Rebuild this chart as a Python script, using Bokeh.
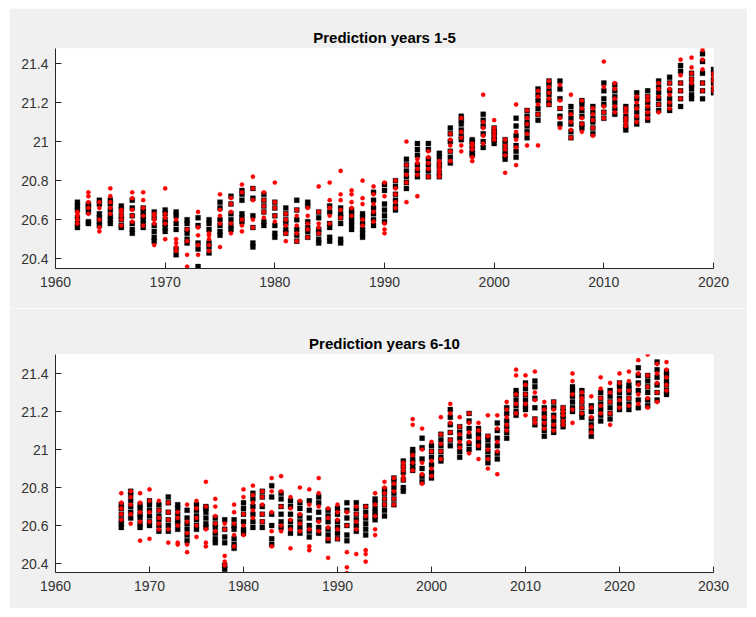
from bokeh.plotting import figure
from bokeh.layouts import column
from bokeh.models import Range1d, FixedTicker, CustomJSTickFormatter, ColumnDataSource, Title
from bokeh.embed import file_html
from bokeh.resources import INLINE

# ---------------- data: prediction years 1-5 ----------------
years_top = list(range(1962, 2021))
black_top = [
    [20.56, 20.58, 20.61, 20.65, 20.67, 20.69],
    [20.58, 20.59, 20.64, 20.66, 20.67, 20.68],
    [20.57, 20.59, 20.61, 20.63, 20.68, 20.70],
    [20.58, 20.60, 20.62, 20.65, 20.68, 20.70],
    [20.56, 20.57, 20.60, 20.62, 20.65, 20.67],
    [20.53, 20.55, 20.58, 20.62, 20.66, 20.70],
    [20.56, 20.58, 20.60, 20.62, 20.64, 20.66],
    [20.49, 20.51, 20.54, 20.57, 20.61, 20.64],
    [20.54, 20.56, 20.58, 20.60, 20.63, 20.65],
    [20.42, 20.45, 20.55, 20.58, 20.62, 20.64],
    [20.48, 20.50, 20.53, 20.55, 20.58, 20.60],
    [20.34, 20.36, 20.45, 20.48, 20.57, 20.61],
    [20.43, 20.46, 20.48, 20.55, 20.58, 20.60],
    [20.52, 20.54, 20.57, 20.60, 20.66, 20.69],
    [20.55, 20.57, 20.60, 20.63, 20.68, 20.72],
    [20.59, 20.61, 20.63, 20.70, 20.73, 20.75],
    [20.46, 20.48, 20.56, 20.62, 20.71, 20.76],
    [20.57, 20.59, 20.64, 20.67, 20.70, 20.73],
    [20.51, 20.53, 20.57, 20.62, 20.66, 20.69],
    [20.53, 20.55, 20.58, 20.60, 20.63, 20.66],
    [20.49, 20.52, 20.55, 20.60, 20.65, 20.70],
    [20.51, 20.54, 20.56, 20.59, 20.67, 20.69],
    [20.48, 20.50, 20.53, 20.55, 20.61, 20.64],
    [20.49, 20.51, 20.56, 20.58, 20.64, 20.67],
    [20.48, 20.50, 20.58, 20.61, 20.63, 20.66],
    [20.55, 20.57, 20.59, 20.61, 20.63, 20.65],
    [20.51, 20.53, 20.55, 20.58, 20.61, 20.63],
    [20.57, 20.60, 20.63, 20.66, 20.70, 20.74],
    [20.59, 20.62, 20.65, 20.68, 20.75, 20.78],
    [20.65, 20.67, 20.70, 20.73, 20.77, 20.80],
    [20.76, 20.79, 20.82, 20.85, 20.88, 20.91],
    [20.82, 20.85, 20.88, 20.93, 20.96, 20.99],
    [20.82, 20.85, 20.88, 20.91, 20.96, 20.99],
    [20.82, 20.84, 20.87, 20.89, 20.92, 20.94],
    [20.89, 20.92, 20.95, 21.00, 21.04, 21.07],
    [21.01, 21.03, 21.06, 21.09, 21.11, 21.13],
    [20.93, 20.94, 20.96, 20.98, 21.00, 21.01],
    [20.97, 21.00, 21.04, 21.08, 21.11, 21.14],
    [20.99, 21.01, 21.02, 21.04, 21.05, 21.07],
    [20.91, 20.93, 20.95, 20.97, 20.99, 21.01],
    [20.92, 20.95, 20.98, 21.03, 21.08, 21.12],
    [21.02, 21.05, 21.08, 21.10, 21.13, 21.16],
    [21.11, 21.14, 21.17, 21.21, 21.24, 21.27],
    [21.19, 21.21, 21.24, 21.26, 21.29, 21.31],
    [21.09, 21.13, 21.17, 21.22, 21.27, 21.31],
    [21.02, 21.05, 21.09, 21.12, 21.15, 21.18],
    [21.07, 21.09, 21.13, 21.16, 21.19, 21.21],
    [21.04, 21.07, 21.10, 21.12, 21.15, 21.18],
    [21.12, 21.15, 21.19, 21.22, 21.26, 21.30],
    [21.14, 21.17, 21.20, 21.23, 21.26, 21.29],
    [21.06, 21.08, 21.11, 21.13, 21.16, 21.18],
    [21.09, 21.12, 21.15, 21.18, 21.22, 21.25],
    [21.11, 21.14, 21.17, 21.20, 21.23, 21.26],
    [21.16, 21.19, 21.22, 21.25, 21.28, 21.31],
    [21.16, 21.19, 21.22, 21.26, 21.30, 21.33],
    [21.18, 21.22, 21.26, 21.30, 21.36, 21.39],
    [21.22, 21.24, 21.27, 21.29, 21.32, 21.35],
    [21.22, 21.26, 21.30, 21.35, 21.41, 21.45],
    [21.25, 21.27, 21.30, 21.32, 21.35, 21.37],
]
red_top = [
    [20.58, 20.60, 20.62, 20.63, 20.64],
    [20.63, 20.66, 20.69, 20.72, 20.74],
    [20.54, 20.56, 20.60, 20.66, 20.69],
    [20.63, 20.66, 20.69, 20.72, 20.76],
    [20.57, 20.60, 20.62, 20.64, 20.65],
    [20.59, 20.62, 20.65, 20.71, 20.74],
    [20.57, 20.62, 20.66, 20.70, 20.74],
    [20.47, 20.58, 20.60, 20.62, 20.63],
    [20.50, 20.58, 20.61, 20.63, 20.76],
    [20.44, 20.46, 20.48, 20.50, 20.60],
    [20.34, 20.36, 20.42, 20.49, 20.55],
    [20.42, 20.47, 20.52, 20.56, 20.64],
    [20.44, 20.47, 20.50, 20.52, 20.53],
    [20.46, 20.58, 20.62, 20.65, 20.73],
    [20.53, 20.58, 20.64, 20.68, 20.71],
    [20.54, 20.57, 20.60, 20.74, 20.78],
    [20.56, 20.60, 20.70, 20.76, 20.82],
    [20.61, 20.64, 20.67, 20.70, 20.74],
    [20.59, 20.62, 20.66, 20.69, 20.79],
    [20.49, 20.53, 20.57, 20.60, 20.63],
    [20.49, 20.53, 20.57, 20.62, 20.65],
    [20.51, 20.55, 20.58, 20.62, 20.66],
    [20.53, 20.56, 20.58, 20.64, 20.77],
    [20.58, 20.62, 20.66, 20.70, 20.79],
    [20.61, 20.65, 20.70, 20.73, 20.85],
    [20.62, 20.66, 20.69, 20.73, 20.75],
    [20.57, 20.60, 20.68, 20.71, 20.80],
    [20.59, 20.64, 20.68, 20.73, 20.77],
    [20.53, 20.55, 20.58, 20.72, 20.79],
    [20.66, 20.69, 20.73, 20.76, 20.80],
    [20.69, 20.79, 20.83, 20.88, 21.00],
    [20.72, 20.83, 20.86, 20.89, 20.91],
    [20.82, 20.86, 20.89, 20.92, 20.95],
    [20.82, 20.84, 20.86, 20.88, 20.90],
    [20.90, 20.95, 20.98, 21.01, 21.04],
    [20.95, 20.98, 21.02, 21.05, 21.12],
    [20.90, 20.92, 20.96, 20.98, 20.99],
    [20.99, 21.03, 21.07, 21.10, 21.24],
    [21.01, 21.03, 21.05, 21.07, 21.11],
    [20.84, 20.93, 20.96, 20.98, 21.01],
    [20.88, 20.97, 21.01, 21.05, 21.19],
    [20.98, 21.04, 21.09, 21.12, 21.16],
    [20.98, 21.14, 21.19, 21.23, 21.26],
    [21.19, 21.22, 21.25, 21.28, 21.31],
    [21.07, 21.12, 21.17, 21.21, 21.29],
    [21.02, 21.06, 21.10, 21.14, 21.24],
    [21.05, 21.09, 21.12, 21.17, 21.21],
    [21.03, 21.07, 21.11, 21.14, 21.17],
    [21.12, 21.15, 21.18, 21.28, 21.41],
    [21.15, 21.18, 21.22, 21.27, 21.30],
    [21.08, 21.10, 21.12, 21.15, 21.17],
    [21.10, 21.13, 21.17, 21.20, 21.23],
    [21.12, 21.15, 21.18, 21.21, 21.23],
    [21.15, 21.19, 21.23, 21.27, 21.30],
    [21.17, 21.20, 21.24, 21.27, 21.30],
    [21.22, 21.26, 21.30, 21.34, 21.42],
    [21.30, 21.32, 21.35, 21.38, 21.43],
    [21.26, 21.30, 21.37, 21.42, 21.47],
    [21.26, 21.28, 21.31, 21.33, 21.35],
]

# ---------------- data: prediction years 6-10 ----------------
years_bot = list(range(1967, 2026))
black_bot = [
    [20.59, 20.61, 20.63, 20.66, 20.69, 20.71],
    [20.64, 20.67, 20.70, 20.73, 20.76, 20.78],
    [20.59, 20.61, 20.64, 20.66, 20.69, 20.71],
    [20.60, 20.62, 20.65, 20.68, 20.71, 20.73],
    [20.57, 20.60, 20.63, 20.65, 20.68, 20.71],
    [20.57, 20.60, 20.63, 20.67, 20.72, 20.75],
    [20.58, 20.61, 20.63, 20.66, 20.69, 20.71],
    [20.52, 20.55, 20.58, 20.61, 20.64, 20.68],
    [20.58, 20.60, 20.63, 20.65, 20.68, 20.71],
    [20.59, 20.61, 20.64, 20.67, 20.69, 20.70],
    [20.51, 20.53, 20.56, 20.59, 20.61, 20.64],
    [20.37, 20.39, 20.51, 20.54, 20.58, 20.63],
    [20.48, 20.50, 20.53, 20.58, 20.60, 20.63],
    [20.56, 20.58, 20.62, 20.66, 20.69, 20.72],
    [20.59, 20.62, 20.66, 20.70, 20.74, 20.77],
    [20.59, 20.62, 20.66, 20.70, 20.75, 20.78],
    [20.50, 20.53, 20.60, 20.66, 20.75, 20.81],
    [20.59, 20.62, 20.66, 20.70, 20.74, 20.77],
    [20.56, 20.59, 20.62, 20.66, 20.70, 20.73],
    [20.56, 20.59, 20.62, 20.65, 20.69, 20.72],
    [20.54, 20.57, 20.60, 20.64, 20.68, 20.73],
    [20.56, 20.59, 20.63, 20.67, 20.72, 20.75],
    [20.52, 20.55, 20.58, 20.62, 20.65, 20.68],
    [20.53, 20.56, 20.59, 20.62, 20.66, 20.69],
    [20.52, 20.55, 20.60, 20.64, 20.68, 20.72],
    [20.57, 20.60, 20.63, 20.66, 20.69, 20.72],
    [20.55, 20.58, 20.61, 20.64, 20.67, 20.70],
    [20.63, 20.65, 20.67, 20.69, 20.72, 20.74],
    [20.65, 20.68, 20.71, 20.74, 20.77, 20.79],
    [20.71, 20.74, 20.77, 20.80, 20.83, 20.85],
    [20.78, 20.80, 20.84, 20.88, 20.91, 20.94],
    [20.89, 20.91, 20.93, 20.95, 20.98, 21.00],
    [20.83, 20.86, 20.90, 20.95, 21.01, 21.06],
    [20.85, 20.88, 20.92, 20.96, 20.99, 21.02],
    [20.94, 20.96, 20.99, 21.02, 21.05, 21.08],
    [21.02, 21.05, 21.09, 21.13, 21.17, 21.21],
    [20.96, 20.99, 21.02, 21.06, 21.09, 21.12],
    [21.00, 21.03, 21.07, 21.11, 21.15, 21.19],
    [21.01, 21.03, 21.05, 21.07, 21.09, 21.11],
    [20.93, 20.96, 20.99, 21.02, 21.05, 21.07],
    [20.95, 20.98, 21.02, 21.06, 21.10, 21.14],
    [21.06, 21.09, 21.12, 21.15, 21.19, 21.22],
    [21.18, 21.20, 21.23, 21.26, 21.29, 21.31],
    [21.21, 21.23, 21.26, 21.29, 21.32, 21.35],
    [21.13, 21.16, 21.22, 21.27, 21.33, 21.36],
    [21.07, 21.10, 21.13, 21.16, 21.19, 21.22],
    [21.09, 21.12, 21.15, 21.18, 21.22, 21.25],
    [21.12, 21.14, 21.16, 21.18, 21.20, 21.22],
    [21.20, 21.22, 21.25, 21.28, 21.31, 21.33],
    [21.17, 21.19, 21.22, 21.25, 21.28, 21.31],
    [21.07, 21.10, 21.13, 21.16, 21.20, 21.23],
    [21.15, 21.18, 21.21, 21.24, 21.27, 21.30],
    [21.16, 21.19, 21.22, 21.25, 21.28, 21.31],
    [21.21, 21.24, 21.27, 21.30, 21.33, 21.35],
    [21.21, 21.24, 21.27, 21.30, 21.32, 21.34],
    [21.22, 21.26, 21.31, 21.35, 21.39, 21.43],
    [21.23, 21.26, 21.30, 21.33, 21.36, 21.39],
    [21.26, 21.30, 21.34, 21.38, 21.42, 21.46],
    [21.29, 21.31, 21.34, 21.36, 21.39, 21.41],
]
red_bot = [
    [20.63, 20.66, 20.69, 20.72, 20.77],
    [20.61, 20.66, 20.71, 20.75, 20.78],
    [20.52, 20.62, 20.67, 20.72, 20.77],
    [20.53, 20.62, 20.67, 20.73, 20.79],
    [20.58, 20.61, 20.64, 20.68, 20.73],
    [20.51, 20.58, 20.63, 20.67, 20.72],
    [20.50, 20.51, 20.60, 20.64, 20.67],
    [20.46, 20.50, 20.56, 20.62, 20.71],
    [20.54, 20.60, 20.64, 20.69, 20.73],
    [20.49, 20.51, 20.58, 20.70, 20.83],
    [20.57, 20.61, 20.65, 20.70, 20.74],
    [20.39, 20.41, 20.44, 20.58, 20.61],
    [20.49, 20.55, 20.61, 20.67, 20.71],
    [20.55, 20.60, 20.66, 20.75, 20.79],
    [20.64, 20.68, 20.72, 20.76, 20.81],
    [20.62, 20.66, 20.71, 20.75, 20.78],
    [20.49, 20.57, 20.67, 20.78, 20.85],
    [20.57, 20.60, 20.70, 20.78, 20.86],
    [20.48, 20.58, 20.63, 20.69, 20.75],
    [20.57, 20.61, 20.66, 20.73, 20.80],
    [20.47, 20.49, 20.58, 20.71, 20.79],
    [20.57, 20.62, 20.70, 20.77, 20.85],
    [20.43, 20.53, 20.59, 20.64, 20.69],
    [20.53, 20.58, 20.63, 20.67, 20.71],
    [20.35, 20.38, 20.46, 20.60, 20.67],
    [20.45, 20.58, 20.62, 20.66, 20.70],
    [20.41, 20.45, 20.47, 20.65, 20.70],
    [20.55, 20.58, 20.65, 20.71, 20.77],
    [20.71, 20.74, 20.77, 20.80, 20.83],
    [20.71, 20.74, 20.78, 20.82, 20.85],
    [20.84, 20.86, 20.89, 20.91, 20.93],
    [20.89, 20.93, 20.97, 21.13, 21.16],
    [20.82, 20.87, 20.93, 21.00, 21.11],
    [20.86, 20.90, 20.94, 20.99, 21.04],
    [20.95, 20.99, 21.03, 21.08, 21.17],
    [21.05, 21.09, 21.14, 21.19, 21.24],
    [21.01, 21.04, 21.08, 21.12, 21.17],
    [20.98, 21.04, 21.09, 21.14, 21.19],
    [20.95, 21.02, 21.06, 21.10, 21.14],
    [20.90, 20.95, 21.00, 21.07, 21.18],
    [20.87, 20.99, 21.04, 21.11, 21.18],
    [21.10, 21.13, 21.17, 21.21, 21.25],
    [21.19, 21.24, 21.29, 21.39, 21.42],
    [21.18, 21.24, 21.29, 21.34, 21.39],
    [21.14, 21.16, 21.26, 21.30, 21.41],
    [21.11, 21.14, 21.17, 21.21, 21.25],
    [21.10, 21.13, 21.17, 21.21, 21.25],
    [21.13, 21.15, 21.18, 21.20, 21.22],
    [21.14, 21.21, 21.29, 21.36, 21.40],
    [21.19, 21.22, 21.25, 21.27, 21.30],
    [21.09, 21.12, 21.17, 21.22, 21.28],
    [21.19, 21.23, 21.27, 21.32, 21.38],
    [21.13, 21.19, 21.25, 21.30, 21.35],
    [21.22, 21.26, 21.31, 21.35, 21.40],
    [21.23, 21.27, 21.31, 21.36, 21.41],
    [21.24, 21.29, 21.34, 21.40, 21.47],
    [21.22, 21.27, 21.33, 21.39, 21.50],
    [21.25, 21.30, 21.35, 21.40, 21.45],
    [21.31, 21.34, 21.38, 21.42, 21.46],
]

titles = ["Prediction years 1-5", "Prediction years 6-10"]
x_ticks_top = [1960, 1970, 1980, 1990, 2000, 2010, 2020]
x_ticks_bot = [1960, 1970, 1980, 1990, 2000, 2010, 2020, 2030]
y_ticks = [20.4, 20.6, 20.8, 21.0, 21.2, 21.4]

FONT = "Liberation Sans"
AX = "#262626"
LBL = "#333333"
BG = "#f0f0f0"


def flatten(years, groups):
    xs, ys = [], []
    for yr, vals in zip(years, groups):
        for v in vals:
            xs.append(yr)
            ys.append(v)
    return ColumnDataSource(dict(x=xs, y=ys))


def make_panel(title, years, blacks, reds, xr, yr, xticks, height, top, bottom):
    p = figure(width=738, height=height, output_backend="svg", toolbar_location=None,
               x_range=Range1d(*xr), y_range=Range1d(*yr),
               min_border_left=46, min_border_right=34,
               min_border_top=top, min_border_bottom=bottom)
    p.title = Title(text=title, align="center", text_font=FONT, text_font_size="15px",
                    text_font_style="bold", text_color="#000000", standoff=5)
    p.border_fill_color = BG
    p.background_fill_color = "white"
    p.outline_line_color = None
    p.grid.visible = False
    p.scatter("x", "y", source=flatten(years, blacks), marker="square", size=5,
              fill_color="black", line_color="black", line_width=0.3)
    p.scatter("x", "y", source=flatten(years, reds), marker="circle", size=4.3,
              fill_color="#ff0000", line_color="#ff0000", line_width=0.3)
    for ax in (p.xaxis[0], p.yaxis[0]):
        ax.axis_line_color = AX
        ax.axis_line_width = 1
        ax.major_tick_line_color = AX
        ax.major_tick_in = 6
        ax.major_tick_out = 0
        ax.minor_tick_line_color = None
        ax.major_label_text_font = FONT
        ax.major_label_text_font_size = "14px"
        ax.major_label_text_color = LBL
    p.xaxis[0].ticker = FixedTicker(ticks=xticks)
    p.yaxis[0].ticker = FixedTicker(ticks=y_ticks)
    p.yaxis[0].formatter = CustomJSTickFormatter(code="return String(Math.round(tick*10)/10)")
    p.xaxis[0].major_label_standoff = 8
    p.yaxis[0].major_label_standoff = 7
    return p


p1 = make_panel(titles[0], years_top, black_top, red_top, (1960, 2020), (20.35, 21.477),
                x_ticks_top, 300, 40, 40)
p2 = make_panel(titles[1], years_bot, black_bot, red_bot, (1960, 2030), (20.353, 21.5),
                x_ticks_bot, 300, 46, 36)

layout = column(p1, p2, spacing=0, margin=(8, 0, 0, 9))
open("out.html", "w").write(file_html(layout, INLINE))
